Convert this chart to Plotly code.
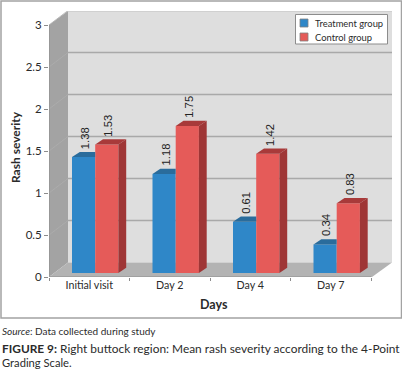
import plotly.graph_objects as go

categories = ["Initial visit", "Day 2", "Day 4", "Day 7"]
treatment = [1.38, 1.18, 0.61, 0.34]
control = [1.53, 1.75, 1.42, 0.83]
series_names = ["Treatment group", "Control group"]
y_ticks = [0, 0.5, 1, 1.5, 2, 2.5, 3]
y_tick_text = ["0", "0.5", "1", "1.5", "2", "2.5", "3"]

W, H = 402, 370
L, R, T, B = 49, 392, 11, 277
PX_X, PX_Y = 80.5, 84.0


def dx(px):
    return (px - L) / PX_X


def dy(px):
    return (B - px) / PX_Y


def px_paper(px):
    return (px - L) / (R - L)


def py_paper(py):
    return (B - py) / (B - T)


BASE = 4 / PX_Y
BAR_W = 23.2 / PX_X
BAR_START = 23 / PX_X
DEPTH_X, DEPTH_Y = 7.8 / PX_X, 5.2 / PX_Y
BACK_X, BACK_Y = 19 / PX_X, 14.5 / PX_Y

BLUE, BLUE_TOP = "#2f87c8", "#2a6c9c"
RED, RED_DARK = "#e55b59", "#9f3636"
GRID = "#a9a9a9"
TEXT = "#2b2b2b"
FONT = "Lato"

fig = go.Figure()
x_blue = [i + BAR_START + BAR_W / 2 for i in range(4)]
x_red = [i + BAR_START + 1.5 * BAR_W for i in range(4)]

fig.add_bar(x=x_blue, y=treatment, base=BASE, width=BAR_W, name=series_names[0],
            marker=dict(color=BLUE, line=dict(width=0)), hoverinfo="skip")
fig.add_bar(x=x_red, y=control, base=BASE, width=BAR_W, name=series_names[1],
            marker=dict(color=RED, line=dict(width=0)), hoverinfo="skip")

for xc, v in zip(x_blue, treatment):
    x0, x1, t = xc - BAR_W / 2, xc + BAR_W / 2, BASE + v
    fig.add_scatter(x=[x0, x0 + DEPTH_X, x1, x1, x0], y=[t, t + DEPTH_Y, t + DEPTH_Y, t, t],
                    fill="toself", fillcolor=BLUE_TOP, mode="none", showlegend=False, hoverinfo="skip")
for xc, v in zip(x_red, control):
    x0, x1, t = xc - BAR_W / 2, xc + BAR_W / 2, BASE + v
    fig.add_scatter(x=[x0, x0 + DEPTH_X, x1 + DEPTH_X, x1, x0], y=[t, t + DEPTH_Y, t + DEPTH_Y, t, t],
                    fill="toself", fillcolor="#a83a3a", mode="none", showlegend=False, hoverinfo="skip")
    fig.add_scatter(x=[x1, x1 + DEPTH_X, x1 + DEPTH_X, x1, x1],
                    y=[t, t + DEPTH_Y, BASE + DEPTH_Y, BASE, t],
                    fill="toself", fillcolor=RED_DARK, mode="none", showlegend=False, hoverinfo="skip")

shapes = []


def poly(points, color):
    path = "M " + " L ".join(f"{dx(a):.4f},{dy(b):.4f}" for a, b in points) + " Z"
    shapes.append(dict(type="path", path=path, xref="x", yref="y", fillcolor=color,
                       line=dict(width=0), layer="below"))


poly([(68, 11), (392, 11), (392, 262.5), (68, 262.5)], "#dedede")
poly([(49, 25), (68, 11), (68, 262.5), (49, 277)], "#a3a3a3")
poly([(49, 277), (68, 262.5), (392, 262.5), (372, 277)], "#b3b3b3")
for v in y_ticks[1:]:
    shapes.append(dict(type="line", xref="x", yref="y", x0=BACK_X, x1=dx(392),
                       y0=v + BACK_Y, y1=v + BACK_Y, line=dict(color=GRID, width=1.5), layer="below"))
    shapes.append(dict(type="line", xref="x", yref="y", x0=0, x1=BACK_X,
                       y0=v, y1=v + BACK_Y, line=dict(color="#adadad", width=0.8), layer="below"))
shapes.append(dict(type="line", xref="x", yref="y", x0=0, x1=0, y0=0, y1=3,
                   line=dict(color="#8c8c8c", width=1), layer="above"))
shapes.append(dict(type="line", xref="x", yref="y", x0=0, x1=4, y0=0, y1=0,
                   line=dict(color="#8c8c8c", width=1), layer="above"))
shapes.append(dict(type="rect", xref="paper", yref="paper",
                   x0=px_paper(1), x1=px_paper(401.5), y0=py_paper(318), y1=py_paper(1),
                   line=dict(color="#a3a3a3", width=1.5), fillcolor="rgba(0,0,0,0)", layer="below"))
# Legend box and swatches
shapes.append(dict(type="rect", xref="paper", yref="paper",
                   x0=px_paper(295.5), x1=px_paper(387.5), y0=py_paper(44), y1=py_paper(14.5),
                   line=dict(color="#8c8c8c", width=1), fillcolor="white", layer="above"))
for top, color in ((19, BLUE), (33, RED)):
    shapes.append(dict(type="rect", xref="paper", yref="paper",
                       x0=px_paper(300), x1=px_paper(308), y0=py_paper(top + 8), y1=py_paper(top),
                       line=dict(color="#808080", width=0.8), fillcolor=color, layer="above"))

ann = []
for xs, vals in ((x_blue, treatment), (x_red, control)):
    for xc, v in zip(xs, vals):
        ann.append(dict(x=xc + 1.5 / PX_X, y=BASE + v, xref="x", yref="y", text=f"{v:.2f}",
                        textangle=-90, showarrow=False, yanchor="bottom", yshift=6,
                        font=dict(family="Liberation Sans", size=11.3, color="#222222")))


def text(px, py, s, size=11, anchor="left", angle=0):
    ann.append(dict(x=px_paper(px), y=py_paper(py), xref="paper", yref="paper", text=s,
                    showarrow=False, xanchor=anchor, yanchor="middle", textangle=angle,
                    align="left", xshift=0, font=dict(family=FONT, size=size, color=TEXT),
                    borderpad=0))


text(214, 305, "<b>Days</b>", 12.5, "center")
text(15, 147, "<b>Rash severity</b>", 12, "center", -90)
text(1, 331, "<i>Source</i>: Data collected during study", 10)
text(1, 348.7, "<b>FIGURE 9:</b> Right buttock region: Mean rash severity according to the 4-Point", 11.9)
text(1, 362.6, "Grading Scale.", 11.2)
text(314, 23, series_names[0], 9.4)
text(314, 37, series_names[1], 9.4)

fig.update_layout(
    width=W, height=H, margin=dict(l=L, r=W - R, t=T, b=H - B, pad=0),
    paper_bgcolor="white", plot_bgcolor="white", barmode="overlay",
    font=dict(family=FONT, size=12, color=TEXT),
    shapes=shapes, annotations=ann,
    xaxis=dict(range=[0, (R - L) / PX_X], tickmode="array",
               tickvals=[i + 0.5 for i in range(4)], ticktext=categories,
               ticks="", showgrid=False, zeroline=False, showline=False,
               tickfont=dict(family=FONT, size=10.7, color=TEXT),
               minor=dict(tickvals=[0, 1, 2, 3, 4], ticks="outside", ticklen=3, tickcolor="#8c8c8c", showgrid=False)),
    yaxis=dict(range=[0, (B - T) / PX_Y], tickmode="array", tickvals=y_ticks, ticktext=y_tick_text,
               ticks="outside", ticklen=4, tickcolor="#8c8c8c", showgrid=False, zeroline=False,
               showline=False, tickfont=dict(family=FONT, size=11.5, color=TEXT)),
    showlegend=False,
)
fig.write_html("out.html", config={"displayModeBar": False},
               post_script="document.body.style.margin='0';")
